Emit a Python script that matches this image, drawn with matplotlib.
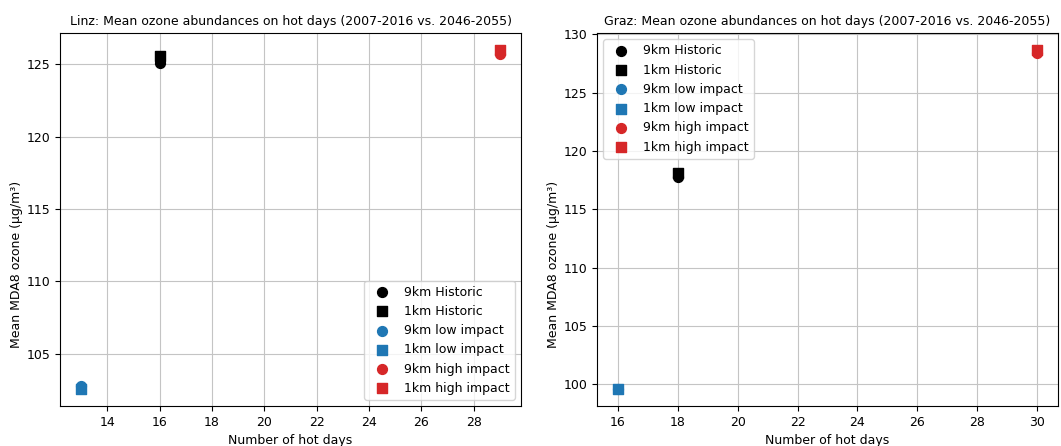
import matplotlib
matplotlib.use("Agg")
import matplotlib.pyplot as plt

# data
scenarios = ["Historic", "low impact", "high impact"]
colours = ["black", "tab:blue", "tab:red"]

linz_days = [16, 13, 29]
linz_9km = [125.1, 102.75, 125.7]
linz_1km = [125.6, 102.55, 126.0]

graz_days = [18, 16, 30]
graz_9km = [117.8, 99.6, 128.35]
graz_1km = [118.1, 99.6, 128.65]

plt.rcParams['font.size'] = 9

fig = plt.figure(figsize=(10.61, 4.46), dpi=100)
ax1 = fig.add_axes([60/1061, 1-406/446, 461/1061, 373/446])
ax2 = fig.add_axes([597/1061, 1-406/446, 461/1061, 373/446])


def plot_city(ax, days, v9, v1, title, loc):
    for d, a, b, c, name in zip(days, v9, v1, colours, scenarios):
        ax.scatter(d, a, marker="o", color=c, s=50, label="9km " + name, zorder=3)
        ax.scatter(d, b, marker="s", color=c, s=50, label="1km " + name, zorder=3)
    ax.set_title(title, fontsize=9)
    ax.set_xlabel("Number of hot days")
    ax.set_ylabel("Mean MDA8 ozone (µg/m³)")
    ax.yaxis.set_label_coords(-0.08, 0.38)
    ax.grid(True, color="#c4c4c4", linewidth=0.8)
    ax.set_axisbelow(True)
    ax.legend(loc=loc)


plot_city(ax1, linz_days, linz_9km, linz_1km,
          "Linz: Mean ozone abundances on hot days (2007-2016 vs. 2046-2055)", "lower right")
plot_city(ax2, graz_days, graz_9km, graz_1km,
          "Graz: Mean ozone abundances on hot days (2007-2016 vs. 2046-2055)", "upper left")

ax1.set_xticks(range(14, 30, 2))
ax2.set_xticks(range(16, 31, 2))

fig.savefig("out.png", dpi=100)
